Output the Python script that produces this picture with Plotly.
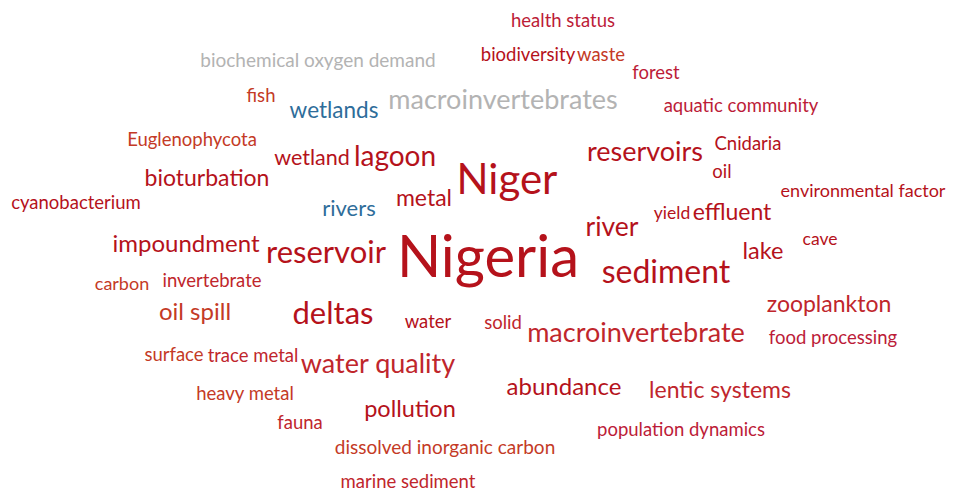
import plotly.graph_objects as go

words = ["Nigeria", "Niger", "sediment", "reservoir", "deltas", "macroinvertebrates",
         "reservoirs", "lagoon", "river", "macroinvertebrate", "water quality",
         "wetland", "bioturbation", "impoundment", "lentic systems", "abundance",
         "pollution", "zooplankton", "oil spill", "effluent", "lake", "metal",
         "wetlands", "rivers",
         "health status", "biochemical oxygen demand", "biodiversity", "waste", "forest",
         "fish", "aquatic community", "Euglenophycota", "Cnidaria", "oil",
         "environmental factor", "cyanobacterium", "yield", "cave", "carbon",
         "invertebrate", "water", "solid", "food processing", "surface", "trace metal",
         "heavy metal", "fauna", "population dynamics", "dissolved inorganic carbon",
         "marine sediment"]

weights = [58, 42, 32, 31, 31, 27,
           27, 28, 26.5, 27, 27,
           21.5, 23, 24, 23, 24,
           23.5, 23, 24, 23, 23.5, 23,
           22.5, 22,
           18.5, 19, 18.5, 18.5, 18.5,
           18.5, 18.5, 18.5, 18.5, 18.5,
           18, 18.5, 17.5, 17.5, 18,
           18.5, 18.5, 18.5, 18.5, 18.5, 18.5,
           18.5, 18.5, 18.5, 19,
           18.5]

groups = ["r1", "r1", "r1", "r1", "r1", "grey",
          "r1", "r1", "r1", "r2", "r2",
          "r1", "r1", "r1", "r2", "r1",
          "r1", "r2", "r3", "r1", "r1", "r1",
          "blue", "blue",
          "r4", "grey", "r1", "r3", "r4",
          "r3", "r4", "r3", "r1", "r1",
          "r1", "r1", "r1", "r1", "r3",
          "r2", "r1", "r2", "r4", "r3", "r2",
          "r3", "r2", "r4", "r3",
          "r2"]

# layout positions (pixel space of the 955x492 window)
pos_x = [488, 507, 666, 326, 333, 503,
         645, 395, 612, 636, 378,
         312, 207, 186, 720, 564,
         410, 829, 195, 732, 763, 424,
         334, 349,
         563, 318, 528, 601, 656,
         261, 741, 192, 748, 722,
         863, 76, 672, 820, 122,
         212, 428, 503, 833, 174, 253,
         245, 300, 681, 445,
         408]
pos_y = [262, 183, 275, 255, 316, 102,
         154, 159, 229, 335, 366,
         160, 180, 246, 392, 389,
         411, 306, 314, 214, 253, 200,
         112, 210,
         22, 62, 56, 56, 74,
         97, 107, 141, 145, 173,
         192, 204, 215, 241, 285,
         282, 323, 324, 339, 356, 357,
         395, 424, 431, 449,
         483]

palette = {"r1": "#b5121b", "r2": "#c0262c", "r3": "#c43a26", "r4": "#bc1c38",
           "grey": "#b3b3b3", "blue": "#2e6d9a"}

# the page body has an 8px margin; offset the axes so data units equal window pixels
PAGE_MARGIN = 8

fig = go.Figure()
fig.add_trace(go.Scatter(
    x=pos_x, y=pos_y, mode="text", text=words,
    textposition="middle center",
    textfont=dict(family="Lato", size=weights, color=[palette[g] for g in groups]),
    hoverinfo="text",
    cliponaxis=False,
))
fig.update_layout(
    width=955 - PAGE_MARGIN, height=492 - PAGE_MARGIN,
    margin=dict(l=0, r=0, t=0, b=0),
    paper_bgcolor="white", plot_bgcolor="white",
    showlegend=False,
    xaxis=dict(range=[PAGE_MARGIN, 955], visible=False, fixedrange=True),
    yaxis=dict(range=[492, PAGE_MARGIN], visible=False, fixedrange=True),
)
fig.write_html("out.html")
